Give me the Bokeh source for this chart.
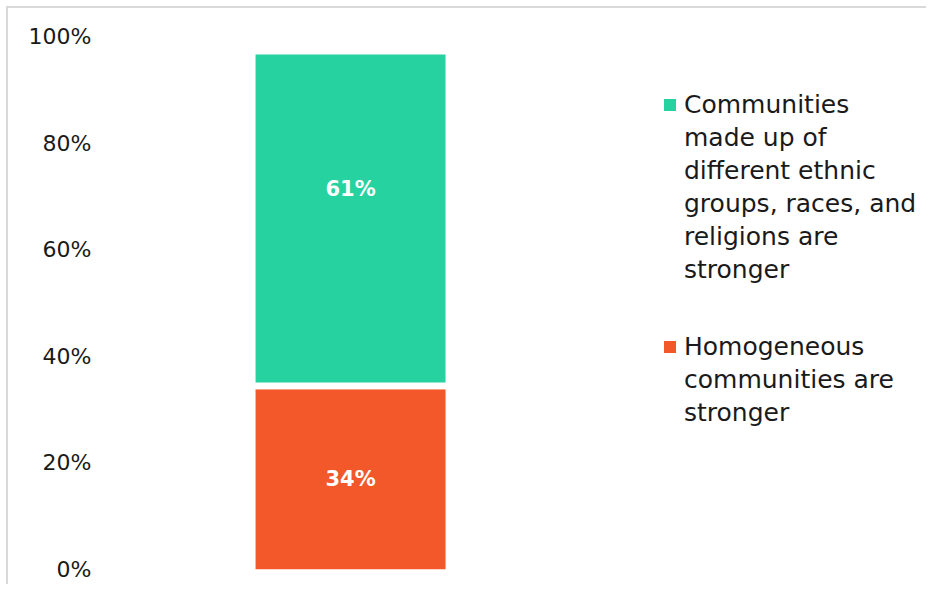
from bokeh.plotting import figure
from bokeh.models import (Range1d, Legend, LegendItem, ColumnDataSource,
                          PrintfTickFormatter, FixedTicker)
from bokeh.core.properties import value
from bokeh.embed import file_html
from bokeh.resources import INLINE

# ---- data ----
categories = ["All"]
homogeneous = [33.8]
gap = [1.3]
diverse = [61.5]
label_homog = ["34%"]
label_diverse = ["61%"]
legend_diverse_lines = ["Communities", "made up of", "different ethnic",
                        "groups, races, and", "religions are", "stronger"]
legend_homog_lines = ["Homogeneous", "communities are", "stronger"]
y_ticks = [0, 20, 40, 60, 80, 100]

GREEN = "#25D2A0"
ORANGE = "#F2582A"
FONT = "DejaVu Sans"

W, H = 920, 578
p = figure(width=W, height=H, output_backend="svg", toolbar_location=None,
           x_range=Range1d(-1.274, 3.042), y_range=Range1d(0, 100),
           min_border_left=100, min_border_right=0, min_border_top=28, min_border_bottom=17)
p.styles = {"margin-left": "6px", "margin-top": "6px",
            "border-top": "2px solid #d9d9d9", "border-left": "2px solid #d9d9d9"}
p.outline_line_color = None
p.grid.visible = False
p.xaxis.visible = False
p.background_fill_color = "white"
p.border_fill_color = "white"

xpos = list(range(len(categories)))
src = ColumnDataSource(dict(x=xpos, homog=homogeneous, gap=gap, diverse=diverse))
rs = p.vbar_stack(["homog", "gap", "diverse"], x="x", width=1.0, source=src,
                  color=[ORANGE, "white", GREEN], line_color=None)

# data labels
lab = ColumnDataSource(dict(
    x=xpos * 2,
    y=[homogeneous[0] / 2, homogeneous[0] + gap[0] + diverse[0] / 2],
    t=label_homog + label_diverse,
    off=[0, -30],
))
p.text(x="x", y="y", text="t", y_offset="off", source=lab, text_color="white",
       text_font=value(FONT), text_font_style="bold", text_font_size="21px",
       text_align="center", text_baseline="middle")

ya = p.yaxis[0]
ya.ticker = FixedTicker(ticks=y_ticks)
ya.formatter = PrintfTickFormatter(format="%d%%")
ya.axis_line_color = None
ya.major_tick_line_color = None
ya.minor_tick_line_color = None
ya.major_label_text_font = FONT
ya.major_label_text_font_size = "22px"
ya.major_label_text_color = "#1a1a1a"
ya.major_label_standoff = 11


def make_legend(lines, renderer, loc):
    items = [LegendItem(label=lines[0], renderers=[renderer])]
    items += [LegendItem(label=t, renderers=[]) for t in lines[1:]]
    lg = Legend(items=items, location=loc)
    lg.label_text_font = FONT
    lg.label_text_font_size = "25px"
    lg.label_text_color = "#1a1a1a"
    lg.glyph_width = 15
    lg.glyph_height = 15
    lg.label_standoff = 7
    lg.spacing = 4
    lg.margin = 0
    lg.padding = 0
    lg.border_line_color = None
    lg.background_fill_alpha = 0
    return lg


p.add_layout(make_legend(legend_diverse_lines, rs[2], (554, 285)), "center")
p.add_layout(make_legend(legend_homog_lines, rs[0], (554, 142)), "center")

open("out.html", "w").write(file_html(p, INLINE))
